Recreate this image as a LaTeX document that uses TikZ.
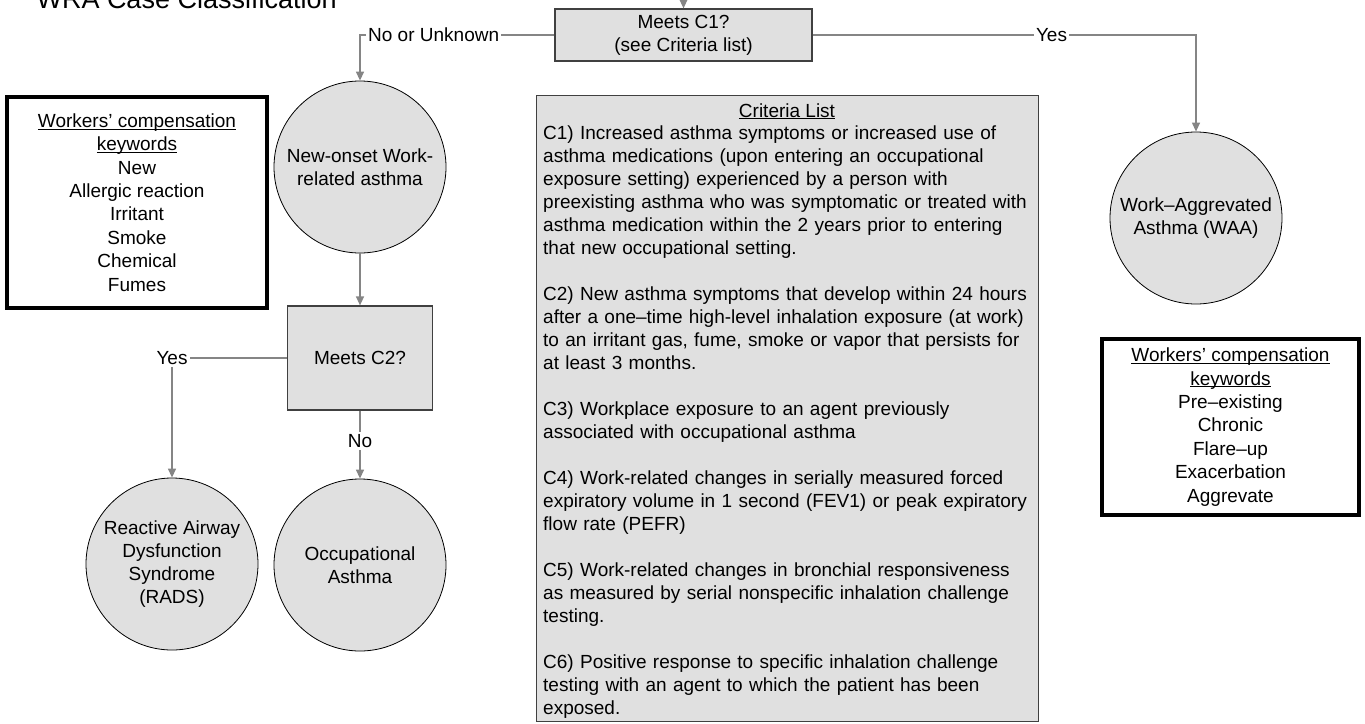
\documentclass[tikz,border=0pt]{standalone}
\usepackage{fontspec}
\setmainfont{Liberation Sans}
\usetikzlibrary{arrows.meta}
\newcommand{\bodyfont}{\fontsize{19}{23}\selectfont}
\newcommand{\kwfont}{\fontsize{19}{23.4}\selectfont}
\definecolor{boxfill}{HTML}{E0E0E0}
\definecolor{linegray}{HTML}{858585}
\definecolor{edgegray}{HTML}{404040}

\begin{document}
\begin{tikzpicture}[x=1pt,y=-1pt,font=\bodyfont,
  conn/.style={linegray,line width=1.3pt,-{Triangle[length=9pt,width=8pt]}},
  wire/.style={linegray,line width=1.3pt},
  decision/.style={draw=edgegray,line width=1.2pt,fill=boxfill,align=center,inner sep=0pt},
  outcome/.style={circle,draw=black,line width=0.8pt,fill=boxfill,minimum size=172pt,align=center,inner sep=0pt},
  keybox/.style={draw=black,line width=4.5pt,fill=white,align=center,font=\kwfont,inner sep=0pt},
  lbl/.style={inner sep=2pt}]
  \useasboundingbox (0,0) rectangle (1365,723);

  \node[anchor=base west,font=\fontsize{27}{32}\selectfont] (title) at (33,8) {WRA Case Classification};

  \node[decision,minimum width=257,minimum height=52] (c1) at (683.5,35) {Meets C1?\\(see Criteria list)};
  \node[outcome] (newonset) at (360,167) {New-onset Work-\\related asthma};
  \node[decision,minimum width=145,minimum height=104] (c2) at (360,358) {Meets C2?};
  \node[outcome] (rads) at (172,564) {Reactive Airway\\Dysfunction\\Syndrome\\(RADS)};
  \node[outcome] (occ) at (360,565) {Occupational\\Asthma};
  \node[outcome] (waa) at (1196,218) {Work--Aggrevated\\Asthma (WAA)};

  \node[keybox,minimum width=260,minimum height=211] (kwleft) at (137,202.5)
    {\underbar{Workers’ compensation}\\\underbar{keywords}\\New\\Allergic reaction\\Irritant\\Smoke\\Chemical\\Fumes};
  \node[keybox,minimum width=257,minimum height=176] (kwright) at (1230.5,427)
    {\underbar{Workers’ compensation}\\\underbar{keywords}\\Pre--existing\\Chronic\\Flare--up\\Exacerbation\\Aggrevate};

  \node[draw=edgegray,line width=1.2pt,fill=boxfill,anchor=north west,minimum width=502,minimum height=626] (crit) at (536,95) {};
  \node[anchor=base] (crithead) at (787,117) {\underbar{Criteria List}};
  \node[anchor=north west,text width=494,align=left,inner sep=0pt] (crittxt) at (543,126) {%
    C1) Increased asthma symptoms or increased use of\\
    asthma medications (upon entering an occupational\\
    exposure setting) experienced by a person with\\
    preexisting asthma who was symptomatic or treated with\\
    asthma medication within the 2 years prior to entering\\
    that new occupational setting.\\[23pt]
    C2) New asthma symptoms that develop within 24 hours\\
    after a one--time high-level inhalation exposure (at work)\\
    to an irritant gas, fume, smoke or vapor that persists for\\
    at least 3 months.\\[23pt]
    C3) Workplace exposure to an agent previously\\
    associated with occupational asthma\\[23pt]
    C4) Work-related changes in serially measured forced\\
    expiratory volume in 1 second (FEV1) or peak expiratory\\
    flow rate (PEFR)\\[23pt]
    C5) Work-related changes in bronchial responsiveness\\
    as measured by serial nonspecific inhalation challenge\\
    testing.\\[23pt]
    C6) Positive response to specific inhalation challenge\\
    testing with an agent to which the patient has been\\
    exposed.};

  \node[lbl,anchor=west] (nolab) at (366,35) {No or Unknown};
  \node[lbl] (yestop) at (1051.5,35) {Yes};
  \node[lbl] (yesc2) at (172,358) {Yes};
  \node[lbl] (noc2) at (360,441) {No};
  \coordinate (entry) at (683.5,-10);

  \draw[conn] (entry) -- (c1);
  \draw[wire] (c1.west) -- (nolab.east);
  \draw[conn] (nolab.west) -| (newonset.north);
  \draw[wire] (c1.east) -- (yestop.west);
  \draw[conn] (yestop.east) -| (waa.north);
  \draw[conn] (newonset) -- (c2);
  \draw[wire] (c2.west) -- (yesc2.east);
  \draw[conn] (yesc2.south) -- (rads.north);
  \draw[wire] (c2.south) -- (noc2.north);
  \draw[conn] (noc2.south) -- (occ.north);
\end{tikzpicture}
\end{document}
